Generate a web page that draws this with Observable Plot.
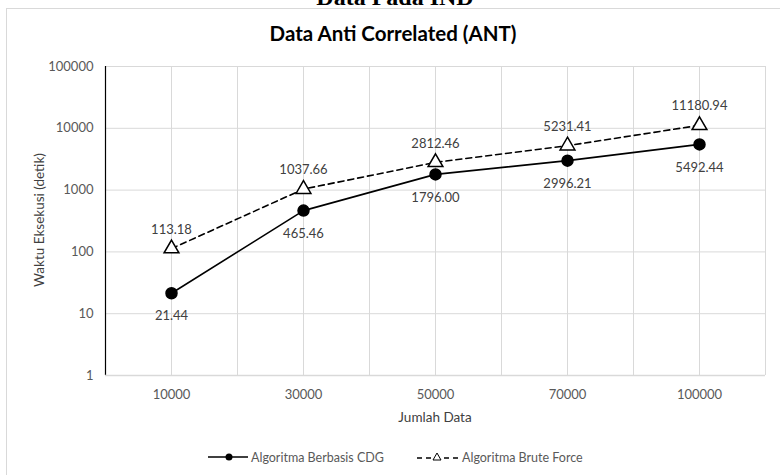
<!DOCTYPE html>
<html><head><meta charset="utf-8">
<script src="https://cdn.jsdelivr.net/npm/d3@7"></script>
<script src="https://cdn.jsdelivr.net/npm/@observablehq/plot@0.6"></script>
<style>
body{margin:0;background:#fff;}
#wrap{position:relative;width:780px;height:475px;overflow:hidden;font-family:Lato,"Open Sans",sans-serif;}
#frame{position:absolute;left:6px;top:8px;width:800px;height:500px;border:1px solid #d9d9d9;box-sizing:border-box;}
#top{position:absolute;top:-16px;left:0;width:790px;text-align:center;font:bold 24px "Liberation Serif",serif;color:#000;}
#title{position:absolute;top:21px;left:0;width:786px;text-align:center;font-weight:bold;font-size:20.5px;color:#000;}
#chart{position:absolute;left:0;top:0;}
#ylab{position:absolute;left:39px;top:220px;transform:translate(-50%,-50%) rotate(-90deg);white-space:nowrap;font-size:13.5px;color:#404040;}
#xlab{position:absolute;left:435px;top:417px;transform:translate(-50%,-50%);white-space:nowrap;font-size:13.5px;color:#404040;}
#legend{position:absolute;top:449px;left:0;width:780px;font-size:12.5px;color:#595959;}
.li{position:absolute;top:0;display:flex;align-items:center;height:16px;}
.li svg{margin-right:3px;}
</style></head>
<body><div id="wrap">
<div id="frame"></div>
<div id="top">Data Pada IND</div>
<div id="title">Data Anti Correlated (ANT)</div>
<div id="chart"></div>
<div id="ylab">Waktu Eksekusi (detik)</div>
<div id="xlab">Jumlah Data</div>
<div id="legend">
 <div class="li" style="left:208px"><svg width="40" height="12"><line x1="0" y1="6" x2="40" y2="6" stroke="#000" stroke-width="1.5"/><circle cx="21" cy="6" r="3.5" fill="#000"/></svg><span>Algoritma Berbasis CDG</span></div>
 <div class="li" style="left:417px"><svg width="42" height="12"><line x1="0" y1="7" x2="42" y2="7" stroke="#000" stroke-width="1.5" stroke-dasharray="5,4"/><path d="M20,2 L24,9 L16,9 Z" fill="#fff" stroke="#000" stroke-width="1"/></svg><span>Algoritma Brute Force</span></div>
</div>
</div>
<script>
const categories = ["10000","30000","50000","70000","100000"];
const cdg = [21.44, 465.46, 1796.00, 2996.21, 5492.44];
const brute = [113.18, 1037.66, 2812.46, 5231.41, 11180.94];
const yTicks = [1, 10, 100, 1000, 10000, 100000];

const idx = categories.map((c, i) => i);
const gridX = d3.range(1, categories.length * 2 + 1).map(i => i / 2 - 0.5);
const cdgData = idx.map(i => ({x: i, y: cdg[i]}));
const bruteData = idx.map(i => ({x: i, y: brute[i]}));

const chart = Plot.plot({
  width: 780, height: 475,
  marginLeft: 105, marginRight: 15, marginTop: 66, marginBottom: 100,
  style: {fontFamily: "Lato, 'Open Sans', sans-serif", fontSize: "13px", background: "transparent"},
  x: {type: "linear", domain: [-0.5, categories.length - 0.5]},
  y: {type: "log", domain: [1, 100000]},
  marks: [
    Plot.ruleY(yTicks.slice(1), {stroke: "#d9d9d9", strokeWidth: 1}),
    Plot.ruleX(gridX, {stroke: "#d9d9d9", strokeWidth: 1}),
    Plot.ruleX([-0.5], {stroke: "#000", strokeWidth: 1.2}),
    Plot.ruleY([1], {stroke: "#d9d9d9", strokeWidth: 1.5}),
    Plot.axisY({ticks: yTicks, tickFormat: d => String(d), tickSize: 0, tickPadding: 12, fill: "#595959", fontSize: 13, label: null}),
    Plot.axisX({ticks: idx, tickFormat: i => categories[i], tickSize: 0, tickPadding: 14, fill: "#595959", fontSize: 13, label: null}),
    Plot.line(bruteData, {x: "x", y: "y", stroke: "#000", strokeWidth: 1.6, strokeDasharray: "6,4"}),
    Plot.line(cdgData, {x: "x", y: "y", stroke: "#000", strokeWidth: 1.6}),
    Plot.dot(cdgData, {x: "x", y: "y", r: 5.5, fill: "#000", stroke: "#000"}),
    Plot.dot(bruteData, {x: "x", y: "y", r: 5.5, symbol: "triangle", fill: "#fff", stroke: "#000", strokeWidth: 1.5}),
    Plot.text(cdgData, {x: "x", y: "y", text: d => d.y.toFixed(2), dy: 23, fill: "#404040", fontSize: 13}),
    Plot.text(bruteData, {x: "x", y: "y", text: d => d.y.toFixed(2), dy: -19, fill: "#404040", fontSize: 13})
  ]
});
document.getElementById("chart").append(chart);
</script>
</body></html>
